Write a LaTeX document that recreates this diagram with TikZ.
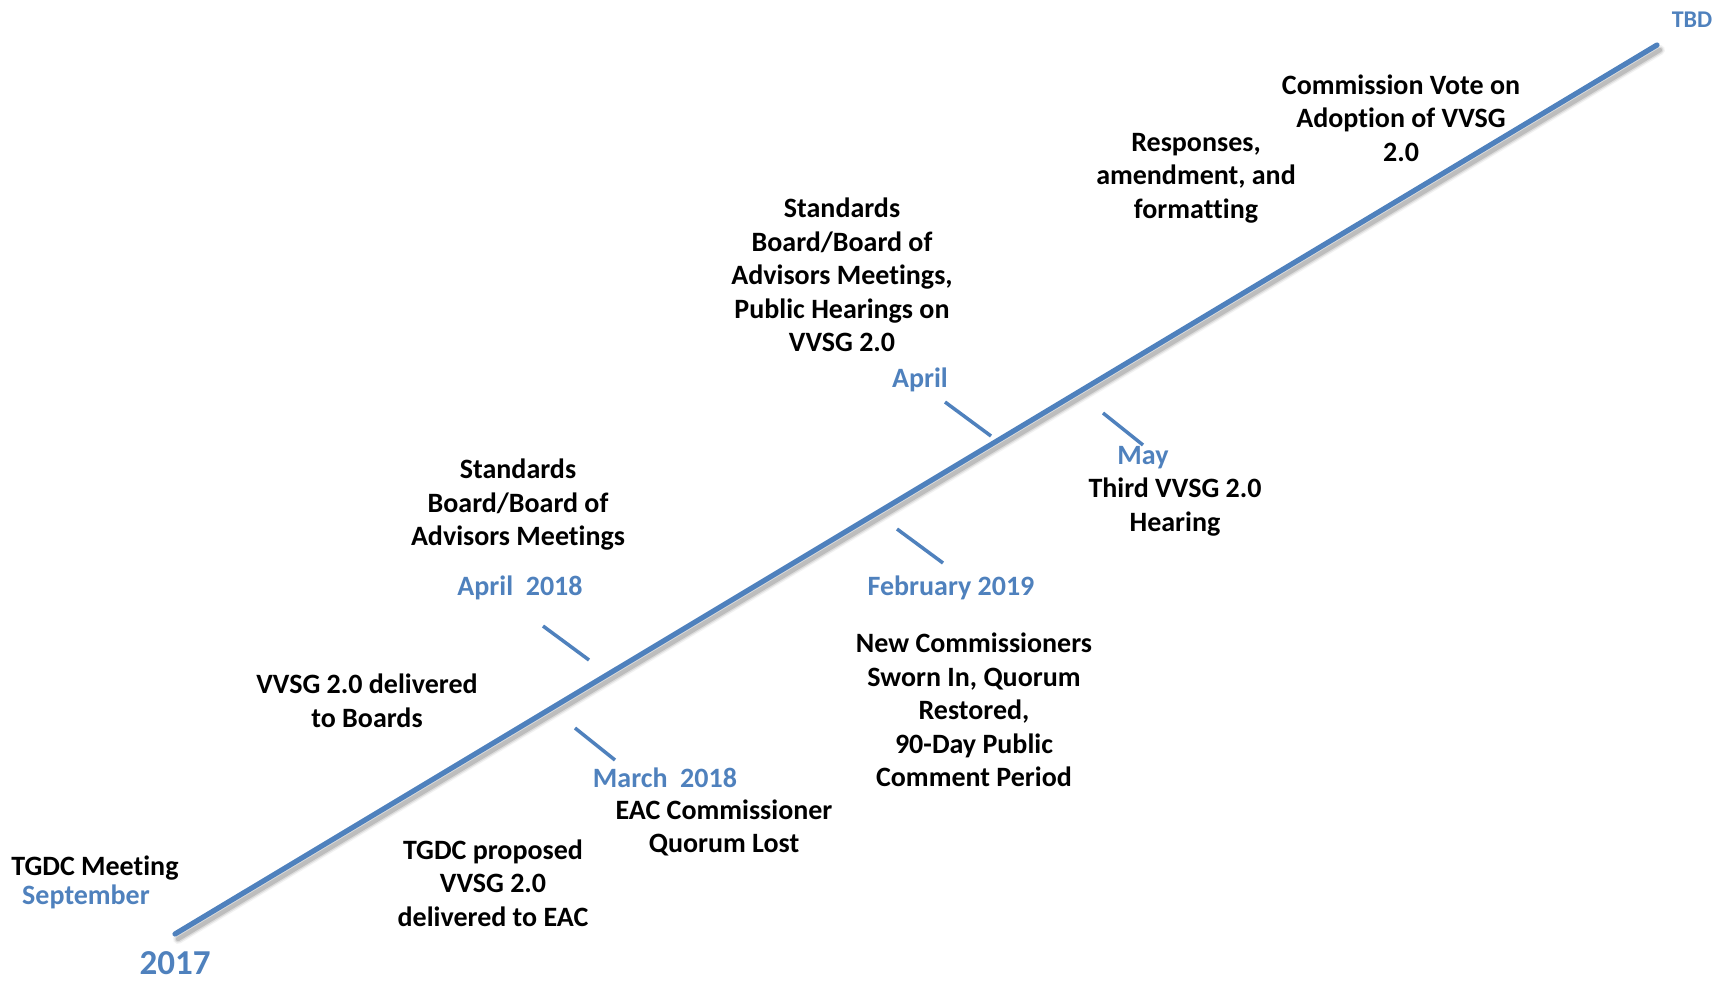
\documentclass[tikz,border=0pt]{standalone}
\usepackage{fontspec}
\setmainfont[Ligatures={NoCommon}]{Carlito}
\usetikzlibrary{positioning}
\definecolor{tlblue}{RGB}{79,129,189}

\begin{document}
\begin{tikzpicture}[x=0.5pt, y=-0.5pt, semithick,
    event/.style={align=center, font=\fontsize{14}{16.75}\selectfont\bfseries, inner sep=0pt},
    when/.style={text=tlblue, font=\fontsize{14}{16.75}\selectfont\bfseries, inner sep=0pt},
    tick/.style={draw=tlblue, line width=1.75pt},
    axis/.style={draw=tlblue, line width=2.6pt, line cap=round}]

    \useasboundingbox (0,0) rectangle (1718,982);

    % timeline
    \coordinate (start) at (175,934);
    \coordinate (stop)  at (1657,45);

    \foreach \w/\o in {5pt/0.05, 3.6pt/0.09, 2.2pt/0.14}
        \draw[line width=\w, black, opacity=\o, line cap=round] ([shift={(3,5)}]start) -- ([shift={(3,5)}]stop);
    \draw[axis] (start) -- (stop);

    % tick marks
    \coordinate (apr18a) at (543,626);   \coordinate (apr18b) at (589,660);
    \coordinate (mar18a) at (575,728);   \coordinate (mar18b) at (615,760);
    \coordinate (feb19a) at (897,529);   \coordinate (feb19b) at (943,563);
    \coordinate (apr19a) at (945,402);   \coordinate (apr19b) at (991,436);
    \coordinate (may19a) at (1103,413);  \coordinate (may19b) at (1143,445);

    \foreach \t in {apr18, mar18, feb19, apr19, may19}
        \draw[tick] (\t a) -- (\t b);

    % dates
    \node[when, font=\fontsize{17.5}{20}\selectfont\bfseries] (y2017) at (175,963)  {2017};
    \node[when, font=\fontsize{12}{14}\selectfont\bfseries]   (tbd)   at (1692,20)  {TBD};
    \node[when]                      (sept)    at (86,897)     {September};
    \node[when]                      (apr18)   at (520,588)    {April\ \ 2018};
    \node[when]                      (mar18)   at (665,778)    {March\ \ 2018};
    \node[when]                      (feb19)   at (951,588)    {February 2019};
    \node[when]                      (apr19)   at (920,380)    {April};
    \node[when]                      (may19)   at (1143,458)   {May};

    % events
    \node[event]                     (tgdc)    at (95,868)     {TGDC Meeting};
    \node[event]                     (prop)    at (493,883)    {TGDC proposed\\VVSG 2.0\\delivered to EAC};
    \node[event]                     (boards)  at (367,701)    {VVSG 2.0 delivered\\to Boards};
    \node[event]                     (lost)    at (724,828)    {EAC Commissioner\\Quorum Lost};
    \node[event]                     (sbba)    at (518,505)    {Standards\\Board/Board of\\Advisors Meetings};
    \node[event]                     (sworn)   at (974,710)    {New Commissioners\\Sworn In, Quorum\\Restored,\\90-Day Public\\Comment Period};
    \node[event]                     (hear)    at (842,275)    {Standards\\Board/Board of\\Advisors Meetings,\\Public Hearings on\\VVSG 2.0};
    \node[event]                     (third)   at (1175,507)   {Third VVSG 2.0\\Hearing};
    \node[event]                     (resp)    at (1196,178)   {Responses,\\amendment, and\\formatting};
    \node[event]                     (vote)    at (1401,118)   {Commission Vote on\\Adoption of VVSG\\2.0};
\end{tikzpicture}
\end{document}
